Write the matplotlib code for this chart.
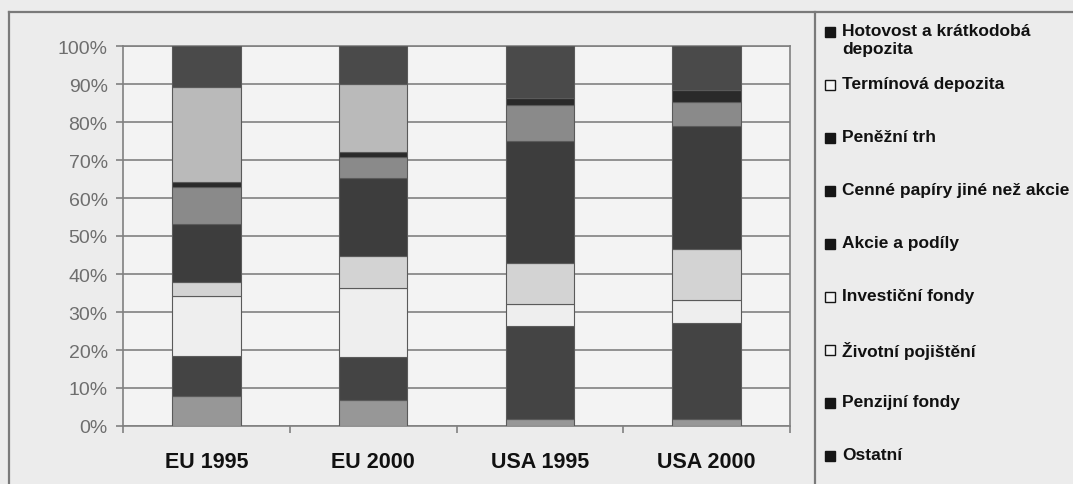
import matplotlib
matplotlib.use('Agg')
import matplotlib.pyplot as plt
from matplotlib.colors import to_rgb
from matplotlib.lines import Line2D
from matplotlib.patches import Rectangle
import numpy as np

plt.rcParams['font.family'] = ['Liberation Sans', 'DejaVu Sans']

# data (shares in %), stacked from the bottom up
categories = ['EU 1995', 'EU 2000', 'USA 1995', 'USA 2000']
series_names = ['Ostatní', 'Penzijní fondy', 'Životní pojištění', 'Investiční fondy',
                'Akcie a podíly', 'Cenné papíry jiné než akcie', 'Peněžní trh',
                'Termínová depozita', 'Hotovost a krátkodobá\ndepozita']
ostatni = [8.0, 6.9, 1.8, 1.8]
penzijni = [10.5, 11.2, 24.4, 25.3]
zivotni = [15.8, 18.1, 5.9, 6.1]
investicni = [3.7, 8.6, 10.8, 13.4]
akcie = [15.2, 20.4, 32.2, 32.3]
cenne_papiry = [9.6, 5.5, 9.5, 6.4]
penezni_trh = [1.3, 1.3, 1.6, 3.2]
terminova = [25.0, 18.0, 0.0, 0.0]
hotovost = [10.9, 10.0, 13.8, 11.5]
series = [ostatni, penzijni, zivotni, investicni, akcie,
          cenne_papiry, penezni_trh, terminova, hotovost]
colors = ['#979797', '#444444', '#eeeeee', '#d3d3d3', '#3d3d3d',
          '#8a8a8a', '#2a2a2a', '#bababa', '#4a4a4a']

W, H = 1073, 485
fig = plt.figure(figsize=(W / 100, H / 100), dpi=100, facecolor='#ececec')
ax = fig.add_axes([123 / W, (H - 427) / H, (790 - 123) / W, (427 - 47) / H])
ax.set_facecolor('#f3f3f3')

x = np.arange(len(categories))
bottom = np.zeros(len(categories))
for vals, col in zip(series, colors):
    ax.bar(x, vals, width=0.41, bottom=bottom, color=col,
           edgecolor='#5a5a5a', linewidth=0.8, zorder=3)
    bottom += np.array(vals)

ax.set_xlim(-0.5, 3.5)
ax.set_ylim(0, 100)
ax.set_yticks(np.arange(0, 101, 10))
ax.set_yticklabels([f'{v}%' for v in range(0, 101, 10)])
ax.set_xticks(x)
ax.set_xticklabels(categories, fontsize=15.5, fontweight='bold', color='#111111')
ax.set_xticks(np.arange(-0.5, 4, 1), minor=True)
ax.tick_params(axis='x', which='major', length=0, pad=18)
ax.tick_params(axis='x', which='minor', length=5, width=1.2, color='#808080')
ax.tick_params(axis='y', length=5, width=1.2, color='#808080', labelsize=14,
               labelcolor='#6e6e6e', pad=6)
ax.grid(axis='y', color='#808080', linewidth=1.2, zorder=0)
for s in ax.spines.values():
    s.set_color('#808080')
    s.set_linewidth(1.2)

# outer frame and legend box
fc = '#7a7a7a'
fig.add_artist(Line2D([9 / W, 1], [1 - 13 / H, 1 - 13 / H], color=fc, lw=1.6))
fig.add_artist(Line2D([9 / W, 9 / W], [0, 1 - 13 / H], color=fc, lw=1.6))
fig.add_artist(Line2D([815 / W, 815 / W], [0, 1 - 13 / H], color=fc, lw=1.6))

# legend, top entry first
for i, (name, col) in enumerate(zip(series_names[::-1], colors[::-1])):
    yc = 33 + 53 * i
    light = sum(to_rgb(col)) / 3 > 0.7
    fig.add_artist(Rectangle((825 / W, 1 - (yc + 5) / H), 10 / W, 10 / H,
                             facecolor='#f5f5f5' if light else '#151515',
                             edgecolor='#151515', lw=1.0,
                             transform=fig.transFigure))
    fig.text(842 / W, 1 - (yc - 9) / H, name, fontsize=12.5, fontweight='bold',
             color='#111111', va='top', ha='left', linespacing=1.25)

fig.savefig('out.png', dpi=100, facecolor=fig.get_facecolor())
